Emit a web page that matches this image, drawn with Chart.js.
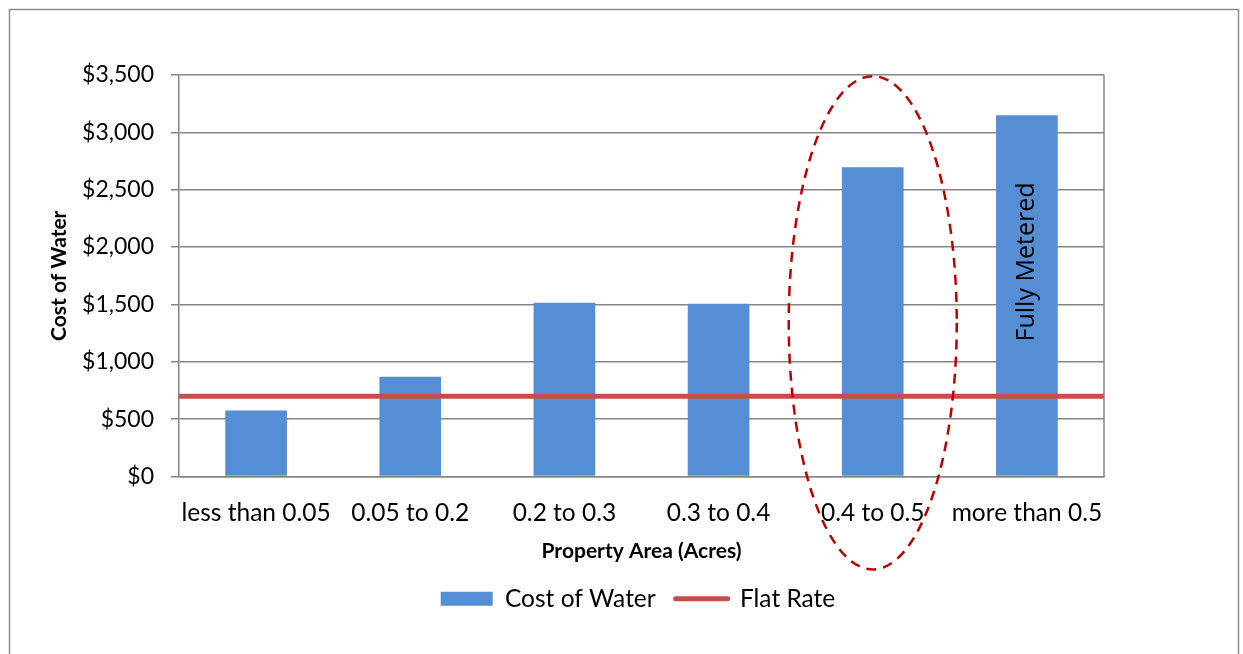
<!DOCTYPE html>
<html>
<head>
<meta charset="utf-8">
<script src="https://cdn.jsdelivr.net/npm/chart.js@4.4.1/dist/chart.umd.min.js"></script>
<style>
  html, body { margin: 0; padding: 0; background: #fff; }
  #wrap { width: 1243px; height: 654px; position: relative; }
</style>
</head>
<body>
<div id="wrap"><canvas id="c" width="1243" height="654"></canvas></div>
<script>
const categories = ['less than 0.05', '0.05 to 0.2', '0.2 to 0.3', '0.3 to 0.4', '0.4 to 0.5', 'more than 0.5'];
const costOfWater = [575, 870, 1515, 1505, 2695, 3150];
const flatRate = [700, 700, 700, 700, 700, 700];
const yTicks = [0, 500, 1000, 1500, 2000, 2500, 3000, 3500];
const highlightIndex = 4;
const barNote = 'Fully Metered';
const noteIndex = 5;

const FONT = 'Lato, "Open Sans", sans-serif';
const GRID = '#868686';

const decor = {
  id: 'decor',
  beforeDraw(chart) {
    const ctx = chart.ctx;
    ctx.save();
    ctx.fillStyle = '#fff';
    ctx.fillRect(0, 0, chart.width, chart.height);
    ctx.strokeStyle = '#8c8c8c';
    ctx.lineWidth = 1.5;
    ctx.strokeRect(9.5, 9.5, 1229, 700);
    ctx.restore();
  },
  afterDatasetsDraw(chart) {
    const ctx = chart.ctx;
    const x = chart.scales.x, y = chart.scales.y;
    const area = chart.chartArea;
    ctx.save();
    ctx.strokeStyle = GRID;
    ctx.lineWidth = 1.5;
    ctx.beginPath();
    ctx.moveTo(area.right, area.top);
    ctx.lineTo(area.right, area.bottom);
    ctx.stroke();
    const nx = x.getPixelForValue(noteIndex);
    const ny = y.getPixelForValue(1870);
    ctx.translate(nx, ny);
    ctx.rotate(-Math.PI / 2);
    ctx.fillStyle = '#000';
    ctx.font = '25px "Open Sans", sans-serif';
    ctx.textAlign = 'center';
    ctx.textBaseline = 'middle';
    ctx.fillText(barNote, 0, 0);
    ctx.restore();
  },
  afterDraw(chart) {
    const ctx = chart.ctx;
    const x = chart.scales.x, y = chart.scales.y;
    const cx = x.getPixelForValue(highlightIndex);
    const top = y.getPixelForValue(3490);
    const bottom = y.getPixelForValue(-810);
    const rx = (x.getPixelForValue(1) - x.getPixelForValue(0)) * 0.545;
    ctx.save();
    ctx.strokeStyle = '#C00000';
    ctx.lineWidth = 2.5;
    ctx.setLineDash([10, 7]);
    ctx.beginPath();
    ctx.ellipse(cx, (top + bottom) / 2, rx, (bottom - top) / 2, 0, 0, Math.PI * 2);
    ctx.stroke();
    ctx.restore();
  }
};

new Chart(document.getElementById('c'), {
  data: {
    labels: categories,
    datasets: [
      {
        type: 'bar',
        label: 'Cost of Water',
        data: costOfWater,
        backgroundColor: '#558ED5',
        borderWidth: 0,
        grouped: false,
        barPercentage: 0.8,
        categoryPercentage: 0.5,
        order: 2
      },
      {
        type: 'line',
        label: 'Flat Rate',
        data: flatRate,
        xAxisID: 'x2',
        borderColor: '#C0504D',
        backgroundColor: '#C0504D',
        borderWidth: 5,
        pointRadius: 0,
        fill: false,
        order: 1
      }
    ]
  },
  options: {
    responsive: false,
    animation: false,
    layout: { padding: { left: 33, right: 0, top: 75, bottom: 33 } },
    plugins: {
      tooltip: { enabled: false },
      legend: {
        position: 'bottom',
        labels: {
          font: { family: FONT, size: 24.5 },
          color: '#000',
          usePointStyle: true,
          pointStyleWidth: 52,
          boxWidth: 52,
          boxHeight: 14,
          padding: 20,
          generateLabels(chart) {
            return chart.data.datasets.map((ds, i) => ({
              text: ds.label,
              datasetIndex: i,
              fillStyle: ds.backgroundColor,
              strokeStyle: ds.type === 'line' ? ds.borderColor : ds.backgroundColor,
              lineWidth: ds.type === 'line' ? 5 : 0,
              lineCap: 'round',
              pointStyle: ds.type === 'line' ? 'line' : 'rect',
              fontColor: '#000',
              hidden: false
            }));
          }
        }
      }
    },
    scales: {
      x: {
        type: 'category',
        offset: true,
        grid: { display: false, drawTicks: false },
        border: { display: true, color: GRID, width: 1.5 },
        ticks: { color: '#000', font: { family: FONT, size: 24.5 }, padding: 22, maxRotation: 0, autoSkip: false },
        title: {
          display: true,
          text: 'Property Area (Acres)',
          color: '#000',
          font: { family: FONT, size: 21, weight: 'bold' },
          padding: { top: 4, bottom: 3 }
        },
        afterFit(s) { s.height = 90; }
      },
      x2: {
        type: 'category',
        labels: categories,
        offset: false,
        display: false
      },
      y: {
        type: 'linear',
        min: 0,
        max: 3500,
        afterBuildTicks(s) { s.ticks = yTicks.map(v => ({ value: v })); },
        grid: { color: GRID, lineWidth: 1.5, drawTicks: true, tickLength: 8 },
        border: { display: true, color: GRID, width: 1.5 },
        ticks: {
          color: '#000',
          font: { family: FONT, size: 23 },
          padding: 17,
          callback: v => '$' + Number(v).toLocaleString('en-US')
        },
        title: {
          display: true,
          text: 'Cost of Water',
          color: '#000',
          font: { family: FONT, size: 21, weight: 'bold' },
          padding: { top: 14, bottom: 0 }
        },
        afterFit(s) { s.width = 146; }
      },
      yRight: {
        type: 'linear',
        position: 'right',
        display: true,
        min: 0,
        max: 3500,
        grid: { display: false, drawTicks: false },
        border: { display: false },
        ticks: { display: false },
        afterFit(s) { s.width = 139; }
      }
    }
  },
  plugins: [decor]
});
</script>
</body>
</html>
